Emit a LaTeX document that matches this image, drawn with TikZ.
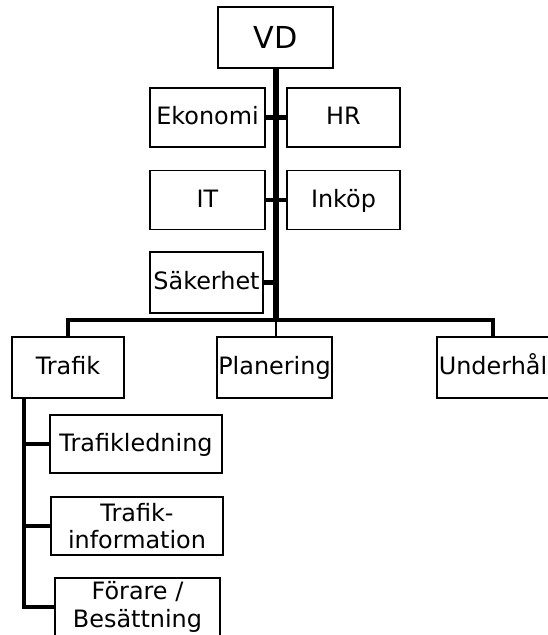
\documentclass[tikz,border=0pt]{standalone}
\usepackage{fontspec}
\setmainfont{DejaVu Sans}
\usepackage{tikz}

\newcommand{\pxl}{0.025cm}

\begin{document}
\begin{tikzpicture}[x=0.025cm, y=-0.025cm,
		box_style/.style={rectangle,draw=black,line width=1.1pt,fill=white,inner sep=1pt,
			minimum height=59*\pxl,align=center,font=\fontsize{17}{19.5}\selectfont},
		line_box/.style={box_style,text height=12.5pt,text depth=2.5pt},
		trunk_style/.style={draw=black,line width=4pt},
		bus_style/.style={draw=black,line width=3.4pt},
		thin_style/.style={draw=black,line width=1.6pt}]
		
		\useasboundingbox (0,0) rectangle (547,635);
		
		\node[line_box,minimum width=115*\pxl,minimum height=61*\pxl,font=\fontsize{21.5}{24}\selectfont,text height=16pt,text depth=1pt] (vd) at (275.5,37.5) {VD};
		\node[line_box,minimum width=115*\pxl] (eko) at (207.5,117.5) {Ekonomi};
		\node[line_box,minimum width=113*\pxl] (hr) at (343.5,117.5) {HR};
		\node[line_box,minimum width=115*\pxl] (it) at (207.5,200) {IT};
		\node[line_box,minimum width=113*\pxl] (ink) at (343.5,200) {Inköp};
		\node[line_box,minimum width=113*\pxl,minimum height=61*\pxl] (sak) at (206.5,282.5) {Säkerhet};
		\node[line_box,minimum width=112*\pxl,minimum height=61*\pxl] (traf) at (68,367.5) {Trafik};
		\node[line_box,minimum width=111*\pxl,minimum height=61*\pxl] (plan) at (274.5,367.5) {Planering};
		\node[line_box,minimum width=112*\pxl,minimum height=61*\pxl] (und) at (493,367.5) {Underhål};
		\node[line_box,minimum width=172*\pxl,minimum height=58*\pxl] (tled) at (136,444) {Trafikledning};
		\node[box_style,minimum width=172*\pxl,minimum height=58*\pxl] (tinf) at (137,526) {Trafik-\\information};
		\node[box_style,minimum width=165*\pxl,minimum height=58*\pxl] (far) at (137.5,607) {Förare /\\Besättning};
		
		\coordinate (bar) at (276,320);
		\coordinate (spine) at (24,398);
		
		\draw[trunk_style]  (vd.south -| bar) -- (bar);
		\draw[bus_style]  (eko.east) -- (eko.east -| bar);
		\draw[bus_style]  (hr.west) -- (hr.west -| bar);
		\draw[bus_style]  (it.east) -- (it.east -| bar);
		\draw[bus_style]  (ink.west) -- (ink.west -| bar);
		\draw[bus_style]  (sak.east) -- (sak.east -| bar);
		\draw[bus_style]  (traf.north) |- (bar) -| (und.north);
		\draw[thin_style]  (bar) -- (plan.north -| bar);
		\draw[bus_style]  (spine) |- (far.west);
		\draw[bus_style]  (spine |- tled.west) -- (tled.west);
		\draw[bus_style]  (spine |- tinf.west) -- (tinf.west);
		
\end{tikzpicture}
\end{document}
